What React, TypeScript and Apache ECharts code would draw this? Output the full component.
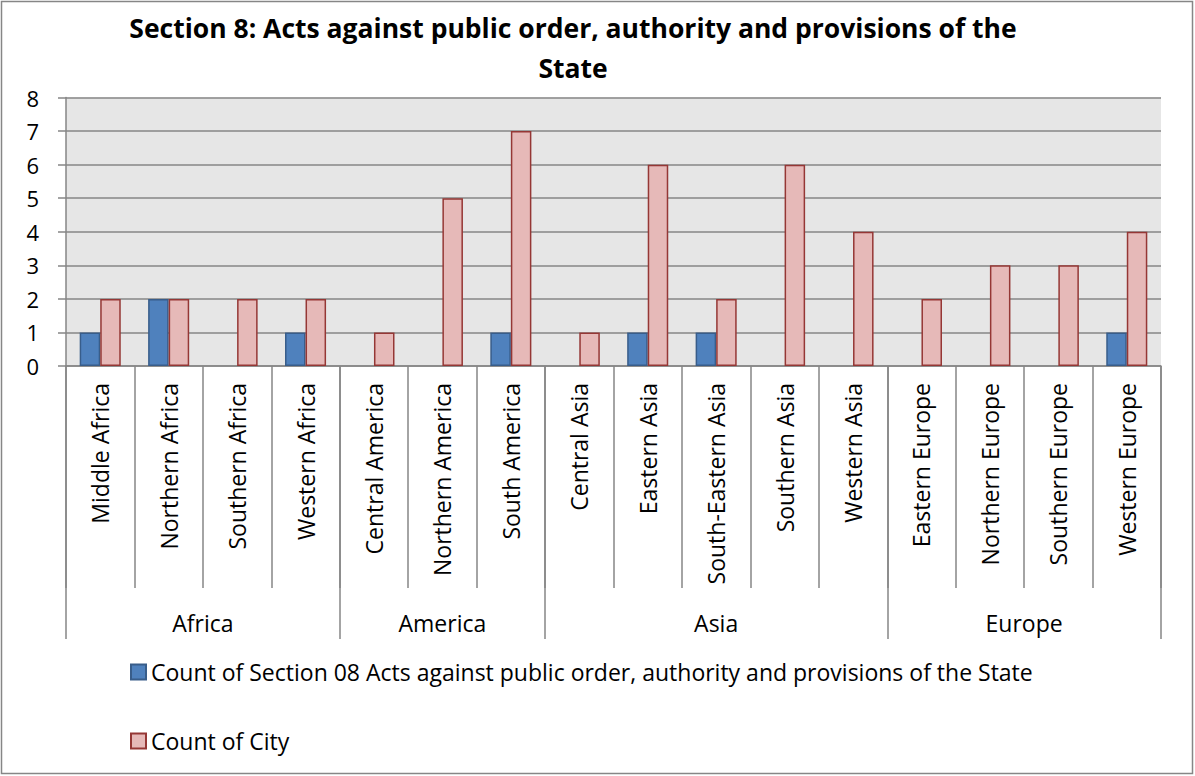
import React, { useEffect, useRef } from "react";
import * as echarts from "echarts";

const categories = [
  "Middle Africa", "Northern Africa", "Southern Africa", "Western Africa",
  "Central America", "Northern America", "South America",
  "Central Asia", "Eastern Asia", "South-Eastern Asia", "Southern Asia", "Western Asia",
  "Eastern Europe", "Northern Europe", "Southern Europe", "Western Europe",
];
const groups = ["Africa", "America", "Asia", "Europe"];
const groupSizes = [4, 3, 5, 4];
const section08Counts = [1, 2, 0, 1, 0, 0, 1, 0, 1, 1, 0, 0, 0, 0, 0, 1];
const cityCounts = [2, 2, 2, 2, 1, 5, 7, 1, 6, 2, 6, 4, 2, 3, 3, 4];
const yTicks = [0, 1, 2, 3, 4, 5, 6, 7, 8];
const seriesNames = [
  "Count of Section 08 Acts against public order, authority and provisions of the State",
  "Count of City",
];
const titleLines = [
  "Section 8: Acts against public order, authority and provisions of the",
  "State",
];

const FONT = "Open Sans";

export default function App() {
  const ref = useRef<HTMLDivElement>(null);
  useEffect(() => {
    if (!ref.current) return;
    const chart = echarts.init(ref.current, null, { renderer: "svg" });

    const boundaries: number[] = [0];
    const centers: number[] = [];
    let acc = 0;
    groupSizes.forEach((s) => {
      centers.push(acc + s / 2);
      acc += s;
      boundaries.push(acc);
    });

    const axisGray = "#868686";
    const titleStyle = {
      fontFamily: FONT,
      fontWeight: "bold",
      fontSize: 26.5,
      fill: "#000",
      textAlign: "center",
      textVerticalAlign: "middle",
    };
    chart.setOption({
      animation: false,
      backgroundColor: "#ffffff",
      textStyle: { fontFamily: FONT },
      graphic: [
        {
          type: "rect",
          shape: { x: 1.5, y: 1.5, width: 1191, height: 772 },
          style: { fill: "none", stroke: axisGray, lineWidth: 1.5 },
          silent: true,
        },
        { type: "text", x: 573, y: 28, style: { ...titleStyle, text: titleLines[0] } },
        { type: "text", x: 573, y: 68, style: { ...titleStyle, text: titleLines[1] } },
      ],
      grid: {
        left: 66,
        right: 34,
        top: 97.5,
        bottom: 410,
        show: true,
        backgroundColor: "#e6e6e6",
        borderWidth: 0,
        containLabel: false,
      },
      legend: {
        orient: "vertical",
        left: 125,
        top: 654,
        itemGap: 43,
        itemWidth: 15,
        itemHeight: 15,
        icon: "rect",
        textStyle: { fontFamily: FONT, fontSize: 23, color: "#000", lineHeight: 26 },
        data: seriesNames,
      },
      xAxis: [
        {
          type: "category",
          data: categories,
          position: "bottom",
          axisLine: { show: true, lineStyle: { color: axisGray, width: 1.5 } },
          axisTick: {
            show: true,
            interval: 0,
            length: 222,
            lineStyle: { color: axisGray, width: 1.5 },
          },
          axisLabel: {
            interval: 0,
            rotate: 90,
            margin: 17,
            fontFamily: FONT,
            fontSize: 23,
            color: "#000",
          },
          splitLine: { show: false },
        },
        {
          type: "value",
          min: 0,
          max: categories.length,
          position: "bottom",
          axisLine: { show: false },
          splitLine: { show: false },
          axisTick: {
            show: true,
            customValues: boundaries,
            length: 273,
            lineStyle: { color: axisGray, width: 1.5 },
          },
          axisLabel: {
            customValues: centers,
            margin: 245,
            fontFamily: FONT,
            fontSize: 23,
            color: "#000",
            formatter: (v: number) => {
              const i = centers.findIndex((c) => Math.abs(c - v) < 1e-6);
              return i >= 0 ? groups[i] : "";
            },
          },
        },
      ],
      yAxis: {
        type: "value",
        min: 0,
        max: 8,
        interval: 1,
        axisLine: { show: true, lineStyle: { color: axisGray, width: 1.5 } },
        axisTick: { show: true, length: 8, lineStyle: { color: axisGray, width: 1.5 } },
        axisLabel: {
          margin: 27,
          fontFamily: FONT,
          fontSize: 22,
          color: "#000",
          formatter: (v: number) => (yTicks.includes(v) ? String(v) : ""),
        },
        splitLine: { show: true, lineStyle: { color: axisGray, width: 1.5 } },
      },
      series: [
        {
          name: seriesNames[0],
          type: "bar",
          xAxisIndex: 0,
          data: section08Counts.map((v) => (v === 0 ? "-" : v)),
          barGap: "0%",
          barCategoryGap: "40%",
          itemStyle: { color: "#4f81bd", borderColor: "#385d8a", borderWidth: 1.5 },
        },
        {
          name: seriesNames[1],
          type: "bar",
          xAxisIndex: 0,
          data: cityCounts.map((v) => (v === 0 ? "-" : v)),
          barGap: "0%",
          barCategoryGap: "40%",
          itemStyle: { color: "#e6b9b8", borderColor: "#953735", borderWidth: 1.5 },
        },
      ],
    });
    return () => chart.dispose();
  }, []);
  return (
    <div
      ref={ref}
      style={{ position: "fixed", left: 0, top: 0, width: 1195, height: 776 }}
    />
  );
}
